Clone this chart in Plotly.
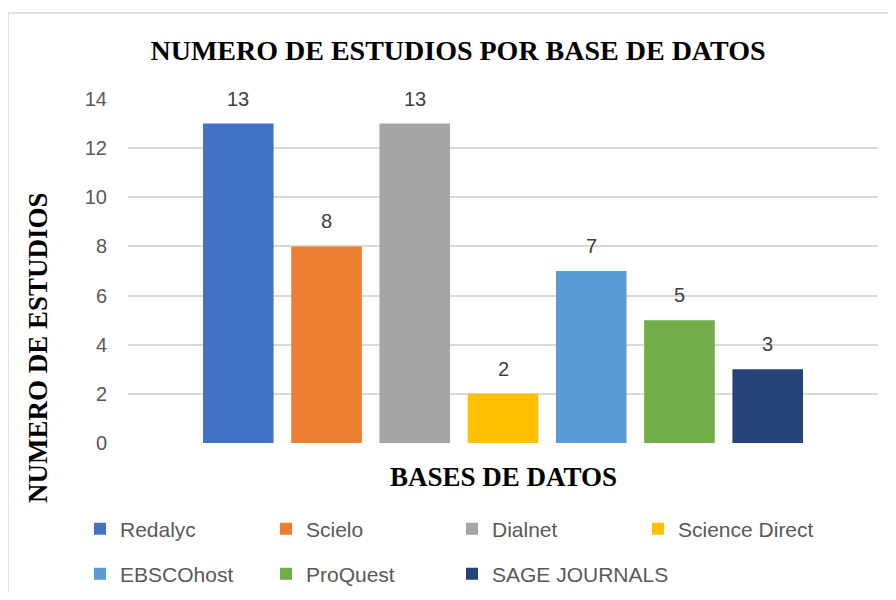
import plotly.graph_objects as go

# ---------------------------------------------------------------------------
# Data
# ---------------------------------------------------------------------------

bases = ["Redalyc", "Scielo", "Dialnet", "Science Direct",
         "EBSCOhost", "ProQuest", "SAGE JOURNALS"]
estudios = [13, 8, 13, 2, 7, 5, 3]
colores = ["#4472C4", "#ED7D31", "#A5A5A5", "#FFC000",
           "#5B9BD5", "#70AD47", "#264478"]
y_ticks = [0, 2, 4, 6, 8, 10, 12, 14]

SERIF = "Liberation Serif, Times New Roman, serif"
SANS = "Liberation Sans, Arial, sans-serif"
GRID = "#D9D9D9"

# figure is 16px smaller than the window: the page body has an 8px margin
FIG_W, FIG_H = 880, 584

# legend slot for each series: rows of four, last item gets its own box so
# the long label is not clipped
legend_of = ["legend", "legend", "legend", "legend",
             "legend2", "legend2", "legend3"]

fig = go.Figure()

for name, val, col, leg in zip(bases, estudios, colores, legend_of):
    fig.add_trace(
        go.Bar(
            x=[name],
            y=[val],
            name=name,
            marker=dict(color=col, line=dict(width=0)),
            legend=leg,
            hoverinfo="name+y",
        )
    )
    # data label above each bar
    fig.add_annotation(
        x=name, y=val, text=str(val), showarrow=False,
        yanchor="bottom", yshift=12,
        font=dict(family=SANS, size=20, color="#404040"),
    )

COL_STEP = 186 / 750    # legend column spacing, in plot fractions
LEG_X = -0.064

legend_common = dict(
    orientation="h",
    xref="paper",
    xanchor="left",
    yanchor="middle",
    font=dict(family=SANS, size=21, color="#595959"),
    entrywidth=141,
    entrywidthmode="pixels",
    bgcolor="rgba(0,0,0,0)",
    itemclick=False,
)

fig.update_layout(
    width=FIG_W,
    height=FIG_H,
    # keep the plot area fixed; legends must not push the margins
    margin=dict(l=120, r=10, t=91, b=149, autoexpand=False),
    paper_bgcolor="white",
    plot_bgcolor="white",
    barmode="overlay",
    bargap=0.2,
    showlegend=True,
    legend=dict(legend_common, x=LEG_X, y=-0.25),
    legend2=dict(legend_common, x=LEG_X, y=-0.381),
    legend3=dict(legend_common, x=LEG_X + 2 * COL_STEP, y=-0.381,
                 entrywidth=None),
    title=dict(
        text="<b>NUMERO DE ESTUDIOS POR BASE DE DATOS</b>",
        font=dict(family=SERIF, size=28, color="black"),
        xref="paper", x=0.44, xanchor="center",
        yref="container", y=1 - 42 / FIG_H, yanchor="middle",
    ),
    xaxis=dict(
        categoryorder="array",
        categoryarray=bases,
        range=[-1.25, len(bases) - 1 + 1.25],
        showticklabels=False,
        showgrid=False,
        zeroline=False,
        showline=False,
        fixedrange=True,
    ),
    yaxis=dict(
        range=[0, 14],
        tickvals=y_ticks,
        showgrid=True,
        gridcolor=GRID,
        gridwidth=1.5,
        zeroline=False,
        showline=False,
        ticklabelstandoff=20,
        tickfont=dict(family=SANS, size=20, color="#595959"),
        fixedrange=True,
    ),
)

# axis titles
fig.add_annotation(
    text="<b>BASES DE DATOS</b>", showarrow=False,
    xref="paper", yref="paper", x=0.5, y=-0.098,
    xanchor="center", yanchor="middle",
    font=dict(family=SERIF, size=27, color="black"),
)
fig.add_annotation(
    text="<b>NUMERO DE ESTUDIOS</b>", showarrow=False, textangle=-90,
    xref="paper", yref="paper", x=-0.12, y=0.276,
    xanchor="center", yanchor="middle",
    font=dict(family=SERIF, size=27, color="black"),
)

# chart frame
fig.add_shape(
    type="rect", xref="paper", yref="paper",
    x0=-0.16, x1=1.05, y0=-0.6, y1=1.25,
    line=dict(color=GRID, width=1.5), fillcolor="rgba(0,0,0,0)",
    layer="below",
)

fig.write_html("out.html")
